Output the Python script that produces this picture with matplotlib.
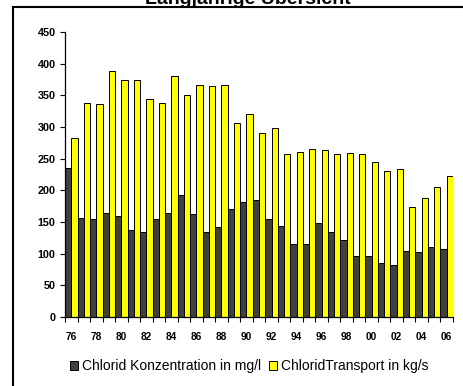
import matplotlib
matplotlib.use("Agg")
import matplotlib.pyplot as plt
from matplotlib.lines import Line2D
import numpy as np

plt.rcParams['font.family'] = ['Liberation Sans', 'DejaVu Sans']

# === DATA ===
years = list(range(1976, 2007))
year_labels = ["%02d" % (y % 100) for y in years]

# Chlorid Konzentration in mg/l
konzentration = [235, 157, 154, 165, 160, 137, 135, 154, 164, 192,
                 162, 135, 142, 170, 181, 184, 155, 143, 116, 116,
                 148, 135, 121, 96, 97, 85, 82, 105, 102, 111, 108]
# ChloridTransport in kg/s
transport = [282, 338, 336, 388, 375, 375, 345, 338, 380, 350,
             366, 364, 366, 307, 321, 291, 298, 258, 260, 266,
             263, 258, 259, 258, 244, 231, 233, 174, 188, 205, 222]

fig = plt.figure(figsize=(4.63, 3.86), dpi=100)
ax = fig.add_axes([65/463, 1 - 317/386, 388/463, 285/386])

x = np.arange(len(years))
w = 0.5
ax.bar(x - w/2, konzentration, width=w, color='#404040', edgecolor='black',
       linewidth=0.7, label='Chlorid Konzentration in mg/l')
ax.bar(x + w/2, transport, width=w, color='#ffff00', edgecolor='black',
       linewidth=0.7, label='ChloridTransport in kg/s')

ax.set_xlim(-0.5, len(years) - 0.5)
ax.set_ylim(0, 450)
ax.set_yticks(range(0, 451, 50))

# labels every second year, tick marks at category boundaries
ax.set_xticks(x[::2])
ax.set_xticklabels(year_labels[::2])
ax.set_xticks(np.arange(-0.5, len(years), 1), minor=True)
ax.tick_params(axis='x', which='major', length=0, pad=10.5, labelsize=7.3)
ax.tick_params(axis='x', which='minor', length=3.6, width=0.8, direction='out')
ax.tick_params(axis='y', length=3.6, width=0.8, direction='out', labelsize=7.8, pad=3.2)
for lbl in ax.get_xticklabels() + ax.get_yticklabels():
    lbl.set_fontweight('bold')

ax.spines['top'].set_visible(False)
ax.spines['right'].set_visible(False)
ax.spines['left'].set_linewidth(0.9)
ax.spines['bottom'].set_linewidth(0.9)

fig.legend(loc='center', bbox_to_anchor=(249/463, 20/386), ncol=2, frameon=False,
           fontsize=10, handlelength=0.6, handleheight=0.6, handletextpad=0.25,
           columnspacing=0.6, borderaxespad=0)

# title cut off at the top, as in the original
fig.text(248/463, 1 - 4.3/386, 'Langjährige Übersicht', ha='center', va='baseline',
         fontsize=14, fontweight='bold')

# frame lines of the original chart area
fig.add_artist(Line2D([13/463, 1], [1 - 7.3/386, 1 - 7.3/386], color='black', linewidth=1.5))
fig.add_artist(Line2D([13.3/463, 13.3/463], [0, 1 - 7.3/386], color='black', linewidth=1.5))

fig.savefig('out.png', dpi=100)
